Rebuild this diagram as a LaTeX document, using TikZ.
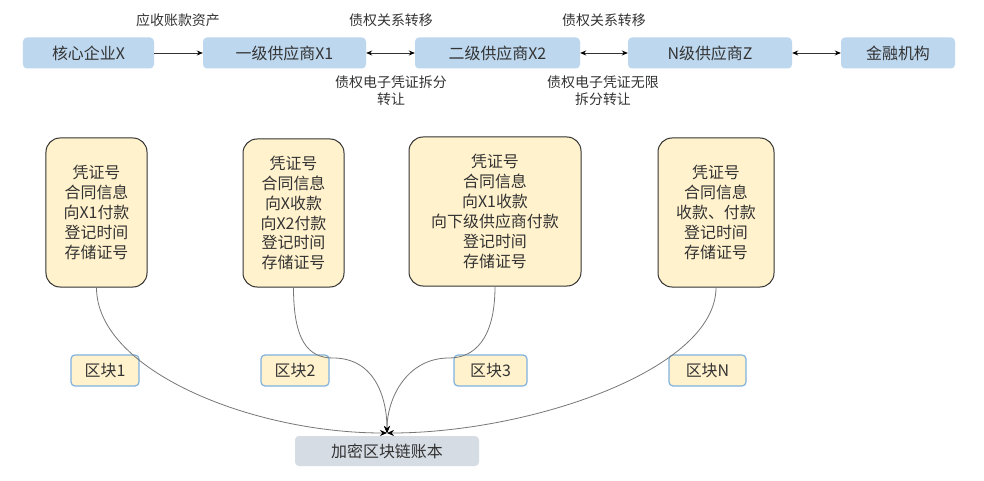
\documentclass[tikz,border=0pt]{standalone}
\usepackage{fontspec}
\setmainfont{Noto Sans CJK SC}
\usetikzlibrary{arrows.meta}
\definecolor{topblue}{HTML}{BDD7EE}
\definecolor{cardyellow}{HTML}{FFF2CC}
\definecolor{cardborder}{HTML}{333333}
\definecolor{blockborder}{HTML}{7EB2E0}
\definecolor{ledgerfill}{HTML}{D6DCE4}
\definecolor{txt}{HTML}{333333}
\definecolor{curve}{HTML}{777777}
\tikzset{
  topbox/.style={fill=topblue, rounded corners=4bp, minimum height=31bp, inner sep=0pt, text=txt, font=\fontsize{16}{20}\selectfont},
  card/.style={fill=cardyellow, draw=cardborder, line width=1bp, rounded corners=14bp, inner sep=0pt, align=center, text=txt, font=\fontsize{16}{20}\selectfont},
  blockbox/.style={fill=cardyellow, draw=blockborder, line width=1.2bp, rounded corners=4bp, minimum height=31bp, inner sep=0pt, text=txt, font=\fontsize{16}{20}\selectfont},
  ledger/.style={fill=ledgerfill, rounded corners=4bp, minimum height=30bp, inner sep=0pt, text=txt, font=\fontsize{16}{20}\selectfont},
  lbl/.style={inner sep=0pt, align=center, text=txt, font=\fontsize{14}{17}\selectfont},
  flow/.style={draw=txt, line width=0.8bp, -{Stealth[length=6bp,width=5bp,color=black]}},
  bflow/.style={draw=txt, line width=0.8bp, {Stealth[length=6bp,width=5bp,color=black]}-{Stealth[length=6bp,width=5bp,color=black]}},
  link/.style={draw=curve, line width=0.8bp, -{Stealth[length=7bp,width=6bp,color=black]}}
}
\begin{document}
\begin{tikzpicture}[x=1bp,y=-1bp]
\useasboundingbox[fill=white] (0,0) rectangle (984,481);
% top row
\node[topbox, minimum width=131bp] (core) at (88.5,53) {核心企业X};
\node[topbox, minimum width=163bp] (s1) at (284.5,53) {一级供应商X1};
\node[topbox, minimum width=165bp] (s2) at (497.5,53) {二级供应商X2};
\node[topbox, minimum width=164bp] (sN) at (710,53) {N级供应商Z};
\node[topbox, minimum width=114bp] (fin) at (898,53) {金融机构};
\draw[flow] (core.east) -- (s1.west);
\draw[bflow] (s1.east) -- (s2.west);
\draw[bflow] (s2.east) -- (sN.west);
\draw[bflow] (sN.east) -- (fin.west);
% labels
\node[lbl] (l1) at (178,20) {应收账款资产};
\node[lbl] (l2) at (391,20) {债权关系转移};
\node[lbl] (l3) at (604,20) {债权关系转移};
\node[lbl] (l4) at (391,90.5) {债权电子凭证拆分\\转让};
\node[lbl] (l5) at (603,90.5) {债权电子凭证无限\\拆分转让};
% cards
\node[card, minimum width=101bp, minimum height=149bp] (b1) at (96.5,212.5) {凭证号\\合同信息\\向X1付款\\登记时间\\存储证号};
\node[card, minimum width=101bp, minimum height=148bp] (b2) at (293.5,213) {凭证号\\合同信息\\向X收款\\向X2付款\\登记时间\\存储证号};
\node[card, minimum width=172bp, minimum height=149bp] (b3) at (495,211.5) {凭证号\\合同信息\\向X1收款\\向下级供应商付款\\登记时间\\存储证号};
\node[card, minimum width=116bp, minimum height=149bp] (b4) at (716,212.5) {凭证号\\合同信息\\收款、付款\\登记时间\\存储证号};
% blocks
\node[blockbox, minimum width=68bp] (k1) at (105,370.5) {区块1};
\node[blockbox, minimum width=68bp] (k2) at (295,370.5) {区块2};
\node[blockbox, minimum width=73bp] (k3) at (490.5,370.5) {区块3};
\node[blockbox, minimum width=77bp] (kN) at (707.5,370.5) {区块N};
% ledger
\node[ledger, minimum width=184bp] (led) at (387,451) {加密区块链账本};
\coordinate (tip) at (387,433);
\coordinate (m2) at (333,358);
\coordinate (m3) at (449,358);
% curves
\draw[link] (b1.south) .. controls +(0,83) and +(-135,0) .. (tip);
\draw[link] (b4.south) .. controls +(0,83) and +(141,0) .. (tip);
\draw[link] (b2.south) .. controls +(0,53) and +(-25,0) .. (m2) .. controls +(42,0) and +(0,-35) .. (tip);
\draw[link] (b3.south) .. controls +(0,53) and +(25,0) .. (m3) .. controls +(-42,0) and +(0,-35) .. (tip);
\end{tikzpicture}
\end{document}
